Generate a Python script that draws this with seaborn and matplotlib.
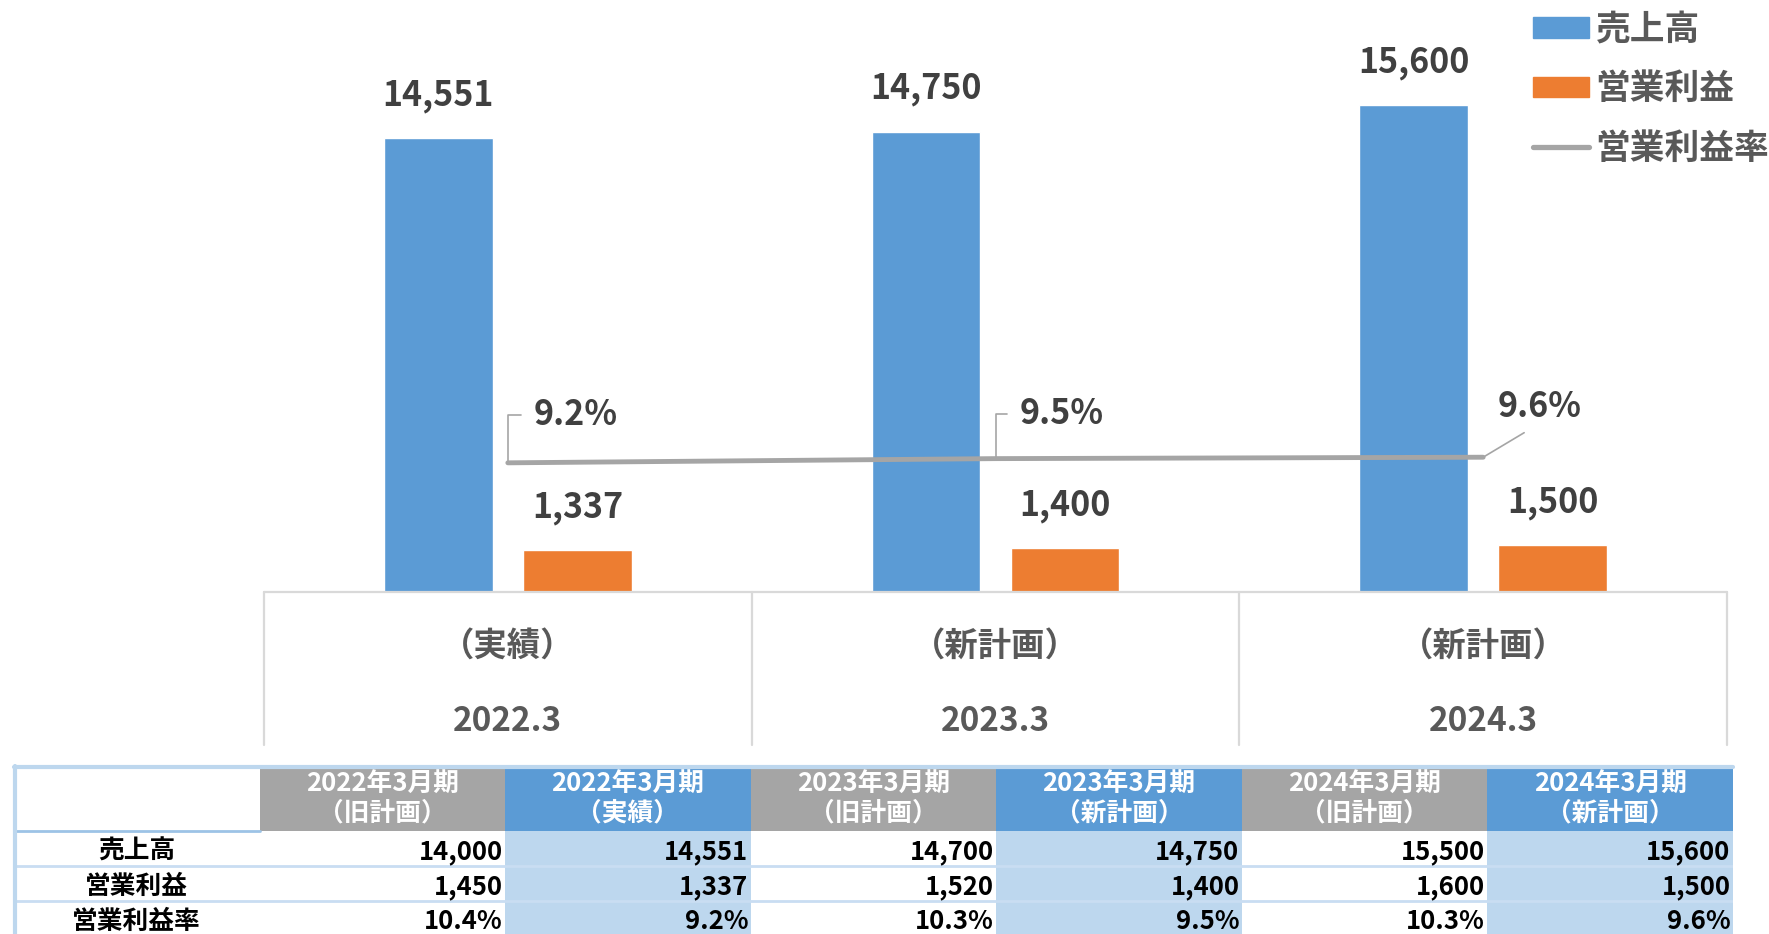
import matplotlib.pyplot as plt
import pandas as pd
import seaborn as sns
from matplotlib.lines import Line2D
from matplotlib.patches import Patch, Rectangle

sns.set_style("white")
plt.rcParams["font.family"] = ["Noto Sans CJK JP", "DejaVu Sans"]

# chart data
categories = ["2022.3", "2023.3", "2024.3"]
category_notes = ["（実績）", "（新計画）", "（新計画）"]
sales = [14551, 14750, 15600]
op_profit = [1337, 1400, 1500]
op_margin = [9.2, 9.5, 9.6]
series_names = ["売上高", "営業利益", "営業利益率"]

# table data
table_periods = ["2022年3月期", "2022年3月期", "2023年3月期", "2023年3月期", "2024年3月期", "2024年3月期"]
table_plans = ["（旧計画）", "（実績）", "（旧計画）", "（新計画）", "（旧計画）", "（新計画）"]
table_rows = ["売上高", "営業利益", "営業利益率"]
table_sales = [14000, 14551, 14700, 14750, 15500, 15600]
table_profit = [1450, 1337, 1520, 1400, 1600, 1500]
table_margin = [10.4, 9.2, 10.3, 9.5, 10.3, 9.6]

BLUE = "#5B9BD5"
ORANGE = "#ED7D31"
GRAY = "#A5A5A5"
LIGHT = "#BDD7EE"
LABEL = "#404040"
AXTXT = "#595959"

W, H = 1769, 934
fig = plt.figure(figsize=(W / 100, H / 100), dpi=100)
ax = fig.add_axes([264 / W, 1 - 592 / H, 1463 / W, 561.6 / H])

df = pd.DataFrame({
    "category": categories * 2,
    "series": [series_names[0]] * 3 + [series_names[1]] * 3,
    "value": sales + op_profit,
})
sns.barplot(data=df, x="category", y="value", hue="series", hue_order=series_names[:2],
            palette=[BLUE, ORANGE], saturation=1, width=0.57, gap=0.216, legend=False, ax=ax)

for cont in ax.containers:
    for bar in cont.patches:
        v = bar.get_height()
        ax.annotate(f"{v:,.0f}", (bar.get_x() + bar.get_width() / 2, v), xytext=(0, 43),
                    textcoords="offset pixels", ha="center", va="center",
                    fontsize=24.5, fontweight="bold", color=LABEL)

ax.set_ylim(0, 18000)
ax.set_xlim(-0.5, 2.5)
ax.set_xticks([])
ax.set_yticks([])
ax.set_xlabel("")
ax.set_ylabel("")
for s in ax.spines.values():
    s.set_visible(False)

# category axis box
trans = ax.get_xaxis_transform()
ax.plot([-0.5, 2.5], [0, 0], transform=trans, color="#D9D9D9", lw=1.6, clip_on=False)
for b in [-0.5, 0.5, 1.5, 2.5]:
    ax.plot([b, b], [0, -0.272], transform=trans, color="#D9D9D9", lw=1.6, clip_on=False)
for i, (note, cat) in enumerate(zip(category_notes, categories)):
    ax.text(i, -0.096, note, transform=trans, ha="center", va="center",
            fontsize=24, fontweight="bold", color=AXTXT)
    ax.text(i, -0.23, cat, transform=trans, ha="center", va="center",
            fontsize=24, fontweight="bold", color=AXTXT)

# margin line on secondary axis
ax2 = ax.twinx()
sns.lineplot(x=list(range(len(categories))), y=op_margin, ax=ax2, color=GRAY, lw=3.5,
             solid_capstyle="round", legend=False)
ax2.set_ylim(0, 40)
ax.set_xlim(-0.5, 2.5)
ax2.axis("off")

label_offsets = [(26, 48), (24, 45), (56, 51)]
for i, v in enumerate(op_margin):
    dx, dy = label_offsets[i]
    if i < 2:
        ax2.annotate(f"{v:.1f}%", (i, v), xytext=(dx, dy), textcoords="offset pixels",
                     ha="left", va="center", fontsize=24.5, fontweight="bold", color=LABEL,
                     arrowprops=dict(arrowstyle="-", color=GRAY, lw=1.2, shrinkA=7, shrinkB=0,
                                     connectionstyle="angle,angleA=0,angleB=90,rad=0"))
    else:
        ax2.annotate(f"{v:.1f}%", (i, v), xytext=(dx, dy), textcoords="offset pixels",
                     ha="center", va="center", fontsize=24.5, fontweight="bold", color=LABEL,
                     arrowprops=dict(arrowstyle="-", color=GRAY, lw=1.2, shrinkA=8, shrinkB=0,
                                     relpos=(0.5, 0)))

handles = [Patch(color=BLUE), Patch(color=ORANGE),
           Line2D([], [], color=GRAY, lw=3.8, solid_capstyle="round")]
fig.legend(handles, series_names, loc="upper left", bbox_to_anchor=(1533 / W, 1 - 12 / H),
           frameon=False, prop={"size": 25, "weight": "bold"}, labelcolor=AXTXT,
           handlelength=1.6, handleheight=0.55, handletextpad=0.2, labelspacing=0.7,
           borderpad=0, borderaxespad=0)

# table under the chart
tax = fig.add_axes([14 / W, -2 / H, 1719 / W, 170 / H])
tax.set_xlim(0, 7)
tax.set_ylim(170, 0)
tax.axis("off")
row_edges = [0, 65, 100, 135, 170]
pad = 0.01

for c in range(7):
    if c == 0:
        head_col, body_col = "white", "white"
    elif c % 2 == 1:
        head_col, body_col = GRAY, "white"
    else:
        head_col, body_col = BLUE, LIGHT
    tax.add_patch(Rectangle((c, 0), 1, 65, color=head_col, lw=0))
    tax.add_patch(Rectangle((c, 65), 1, 105, color=body_col, lw=0))

for c, (period, plan) in enumerate(zip(table_periods, table_plans), start=1):
    tax.text(c + 0.5, 18, period, ha="center", va="center", fontsize=18.5,
             fontweight="bold", color="white")
    tax.text(c + 0.5, 47, plan, ha="center", va="center", fontsize=18.5,
             fontweight="bold", color="white")

body = [[f"{v:,}" for v in table_sales],
        [f"{v:,}" for v in table_profit],
        [f"{v:.1f}%" for v in table_margin]]
for r, (name, vals) in enumerate(zip(table_rows, body)):
    yc = (row_edges[r + 1] + row_edges[r + 2]) / 2 + 3
    tax.text(0.5, yc, name, ha="center", va="center", fontsize=18.5,
             fontweight="bold", color="black")
    for c, t in enumerate(vals, start=1):
        tax.text(c + 1 - pad, yc, t, ha="right", va="center", fontsize=18.5,
                 fontweight="bold", color="black")

for y in row_edges[2:4]:
    tax.plot([0, 7], [y, y], color="#C9DDF2", lw=2)
tax.plot([0, 1], [65, 65], color="#9DC3E6", lw=2)
tax.plot([0, 7], [1, 1], color=LIGHT, lw=3, clip_on=False)
tax.plot([0.003, 0.003], [0, 170], color=LIGHT, lw=3, clip_on=False)

fig.savefig("out.png", dpi=100)
